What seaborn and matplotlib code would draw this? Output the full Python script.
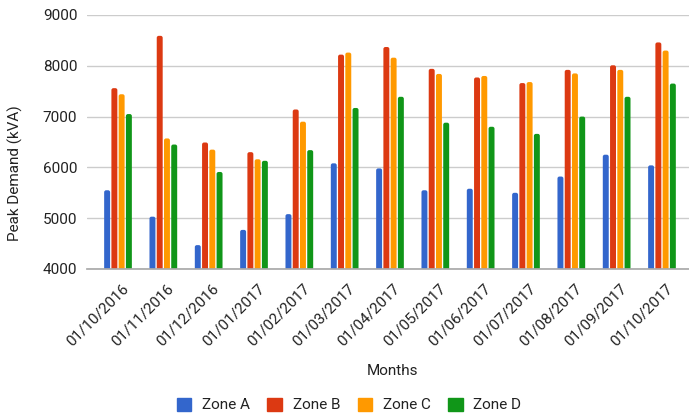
import matplotlib
matplotlib.use("Agg")
import matplotlib.pyplot as plt
import matplotlib.patches as mpatches
import matplotlib.transforms as mtransforms
import seaborn as sns
import pandas as pd

months = ["01/10/2016", "01/11/2016", "01/12/2016", "01/01/2017", "01/02/2017",
          "01/03/2017", "01/04/2017", "01/05/2017", "01/06/2017", "01/07/2017",
          "01/08/2017", "01/09/2017", "01/10/2017"]
zone_a = [5550, 5030, 4470, 4770, 5080, 6080, 5980, 5550, 5580, 5500, 5820, 6250, 6040]
zone_b = [7560, 8590, 6490, 6300, 7140, 8220, 8370, 7940, 7770, 7660, 7920, 8010, 8460]
zone_c = [7440, 6570, 6350, 6160, 6900, 8260, 8160, 7840, 7800, 7680, 7850, 7920, 8300]
zone_d = [7050, 6450, 5910, 6130, 6340, 7170, 7390, 6880, 6800, 6660, 7000, 7390, 7650]
zones = ["Zone A", "Zone B", "Zone C", "Zone D"]
colors = ["#3366cc", "#dc3912", "#ff9900", "#109618"]

rows = []
for zone, vals in zip(zones, [zone_a, zone_b, zone_c, zone_d]):
    for m, v in zip(months, vals):
        rows.append({"Month": m, "Zone": zone, "Demand": v})
df = pd.DataFrame(rows)

sns.set_theme(style="white")
plt.rcParams["font.family"] = ["Roboto", "DejaVu Sans"]
text_color = "#222222"
fs = 11

W, H = 689, 417
fig = plt.figure(figsize=(W / 100, H / 100), dpi=100)
ax_left, ax_right, ax_top, ax_bottom = 87, 689, 15, 269
ax = fig.add_axes([ax_left / W, 1 - ax_bottom / H,
                   (ax_right - ax_left) / W, (ax_bottom - ax_top) / H])

sns.barplot(data=df, x="Month", y="Demand", hue="Zone", palette=colors,
            order=months, hue_order=zones, width=0.64, gap=0.18,
            saturation=1, legend=False, ax=ax, zorder=3)

ax.set_ylim(4000, 9000)
ax.set_yticks([4000, 5000, 6000, 7000, 8000, 9000])
ax.set_xlim(-0.684, 12.596)

# Round the top corners of each bar
px_x = (12.596 + 0.684) / (ax_right - ax_left)
px_y = 5000 / (ax_bottom - ax_top)
radius_px = 2.0
for p in list(ax.patches):
    x, y = p.get_x(), p.get_y()
    w, h = p.get_width(), p.get_height()
    fc = p.get_facecolor()
    p.set_visible(False)
    rb = mpatches.FancyBboxPatch(
        (x, y), w, h,
        boxstyle=f"round,pad=0,rounding_size={radius_px * px_x}",
        mutation_aspect=px_y / px_x, facecolor=fc, edgecolor="none",
        zorder=3)
    ax.add_patch(rb)

ax.grid(axis="y", color="#cccccc", linewidth=1, zorder=0)
for s in ["top", "right", "left"]:
    ax.spines[s].set_visible(False)
ax.spines["bottom"].set_color("#aaaaaa")
ax.spines["bottom"].set_zorder(4)

ax.tick_params(axis="both", length=0, labelsize=fs, labelcolor=text_color)
ax.tick_params(axis="y", pad=7)
ax.tick_params(axis="x", pad=9)
shift = mtransforms.ScaledTranslation(3 / 100, 0, fig.dpi_scale_trans)
for lbl in ax.get_xticklabels():
    lbl.set_rotation(45)
    lbl.set_ha("right")
    lbl.set_va("top")
    lbl.set_rotation_mode("anchor")
    lbl.set_transform(lbl.get_transform() + shift)

ax.set_ylabel("Peak Demand (kVA)", fontsize=fs, color=text_color)
ax.yaxis.set_label_coords((15 - ax_left) / (ax_right - ax_left),
                          (ax_bottom - 173) / (ax_bottom - ax_top))
ax.set_xlabel("Months", fontsize=fs, color=text_color)
ax.xaxis.set_label_coords((392 - ax_left) / (ax_right - ax_left),
                          -(371 - ax_bottom) / (ax_bottom - ax_top))
ax.xaxis.label.set_va("center")
ax.yaxis.label.set_va("center")

handles = [mpatches.Patch(facecolor=c, edgecolor=c) for c in colors]
fig.legend(handles, zones, loc="center", bbox_to_anchor=(349 / W, 1 - 405 / H),
           ncol=4, frameon=False, fontsize=fs, handlelength=0.95, handleheight=0.95,
           columnspacing=1.15, handletextpad=0.7, labelcolor=text_color)

fig.savefig("out.png", dpi=100)
